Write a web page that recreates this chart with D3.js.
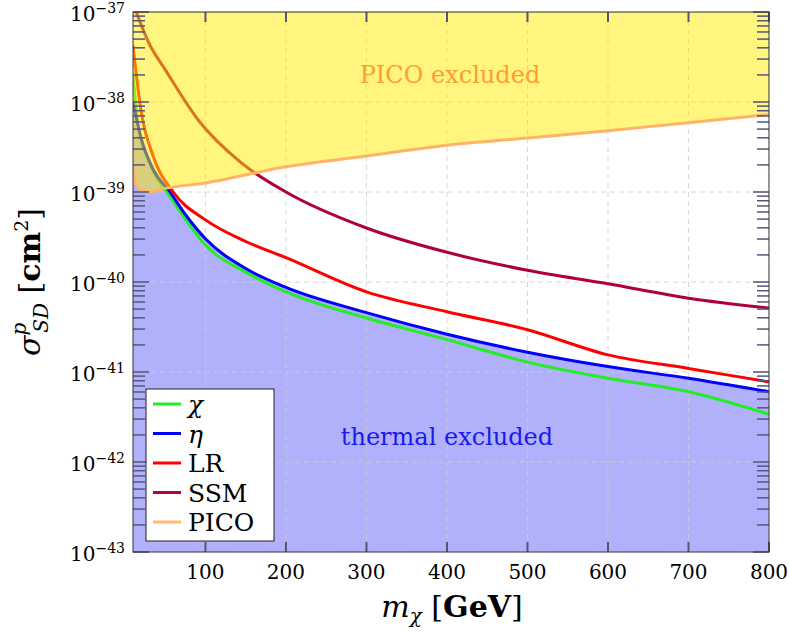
<!DOCTYPE html><html><head><meta charset="utf-8"><script src="https://cdn.jsdelivr.net/npm/d3@7"></script>
<style>body{margin:0;background:#fff}</style></head><body><svg id="c" width="789" height="634" font-family="DejaVu Serif, Liberation Serif, serif"></svg>
<script>
const chiData=[[10,-37.7],[17,-38.3],[29,-38.64],[41,-38.87],[52,-39.0],[75,-39.3],[100,-39.59],[150,-39.89],[200,-40.11],[300,-40.4],[400,-40.64],[500,-40.89],[600,-41.07],[700,-41.22],[800,-41.47]];
const etaData=[[10,-38.0],[20,-38.4],[35,-38.75],[56,-39.0],[75,-39.25],[100,-39.52],[150,-39.85],[200,-40.06],[300,-40.34],[400,-40.58],[500,-40.78],[600,-40.94],[700,-41.07],[800,-41.22]];
const lrData=[[10,-37.37],[20,-38.1],[35,-38.6],[60,-39.0],[100,-39.31],[150,-39.55],[200,-39.73],[300,-40.11],[400,-40.33],[500,-40.53],[600,-40.81],[700,-40.96],[800,-41.11]];
const ssmData=[[14,-37.0],[30,-37.35],[50,-37.64],[91,-38.2],[145,-38.68],[200,-39.0],[300,-39.4],[400,-39.67],[500,-39.87],[600,-40.02],[700,-40.18],[800,-40.29]];
const picoData=[[10,-38.7],[13,-38.9],[20,-38.98],[30,-39.0],[50,-38.96],[100,-38.9],[200,-38.72],[300,-38.6],[400,-38.48],[500,-38.4],[600,-38.32],[700,-38.23],[800,-38.14]];
const xTicks=[100,200,300,400,500,600,700,800];
const yExps=[-37,-38,-39,-40,-41,-42,-43];
const legendItems=[["χ","#22ee22",true],["η","#0000ff",true],["LR","#ff0000",false],["SSM","#c0003a",false],["PICO","#ffbb77",false]];

const svg=d3.select("#c");
const L=133,R=769,T=12,B=552;
const x=d3.scaleLinear().domain([10,800]).range([L,R]);
const y=d3.scaleLinear().domain([-43,-37]).range([B,T]);
svg.append("defs").append("clipPath").attr("id","cp").append("rect").attr("x",L).attr("y",T).attr("width",R-L).attr("height",B-T);
const g=svg.append("g").attr("clip-path","url(#cp)");
const line=d3.line().x(d=>x(d[0])).y(d=>y(d[1])).curve(d3.curveMonotoneX);
g.append("path").datum(etaData).attr("fill","#b1b1fb")
 .attr("d",d3.area().x(d=>x(d[0])).y0(B).y1(d=>y(d[1])).curve(d3.curveMonotoneX));
xTicks.forEach(v=>g.append("line").attr("x1",x(v)).attr("x2",x(v)).attr("y1",T).attr("y2",B).attr("stroke","#ccc").attr("stroke-dasharray","5,4").attr("stroke-width",0.8));
yExps.forEach(e=>g.append("line").attr("x1",L).attr("x2",R).attr("y1",y(e)).attr("y2",y(e)).attr("stroke","#ccc").attr("stroke-dasharray","5,4").attr("stroke-width",0.8));
[[chiData,"#22ee22"],[etaData,"#0000ff"],[lrData,"#ff0000"],[ssmData,"#b0003a"]].forEach(([d,c])=>
 g.append("path").datum(d).attr("fill","none").attr("stroke",c).attr("stroke-width",3).attr("d",line));
g.append("path").datum(picoData).attr("fill","#ffeb00").attr("fill-opacity",0.5)
 .attr("d",d3.area().x(d=>x(d[0])).y0(T).y1(d=>y(d[1])).curve(d3.curveMonotoneX));
g.append("path").datum(picoData).attr("fill","none").attr("stroke","#ffb366").attr("stroke-width",3).attr("d",line);
const tc="#55557a";
yExps.slice(1).forEach(e=>{for(let k=2;k<=9;k++){const yy=y(e+Math.log10(k));[[L,L+12],[R,R-12]].forEach(([a,b])=>svg.append("line").attr("x1",a).attr("x2",b).attr("y1",yy).attr("y2",yy).attr("stroke",tc).attr("stroke-width",1.5));}});
yExps.forEach(e=>[[L,L+16],[R,R-16]].forEach(([a,b])=>svg.append("line").attr("x1",a).attr("x2",b).attr("y1",y(e)).attr("y2",y(e)).attr("stroke",tc).attr("stroke-width",1.5)));
xTicks.forEach(v=>[[B,B-10],[T,T+10]].forEach(([a,b])=>svg.append("line").attr("x1",x(v)).attr("x2",x(v)).attr("y1",a).attr("y2",b).attr("stroke",tc).attr("stroke-width",2)));
svg.append("rect").attr("x",L).attr("y",T).attr("width",R-L).attr("height",B-T).attr("fill","none").attr("stroke","#333").attr("stroke-width",1);
xTicks.forEach(v=>svg.append("text").attr("x",x(v)).attr("y",B+27).attr("text-anchor","middle").attr("font-size",20).text(v));
yExps.forEach(e=>{const t=svg.append("text").attr("x",125).attr("y",y(e)+9).attr("text-anchor","end").attr("font-size",20);
 t.append("tspan").text("10");t.append("tspan").attr("dy",-8).attr("font-size",14).text("−"+(-e));});
const xl=svg.append("text").attr("x",452).attr("y",617).attr("text-anchor","middle").attr("font-size",30);
xl.append("tspan").attr("font-style","italic").text("m");xl.append("tspan").attr("font-style","italic").attr("font-size",20).attr("dy",6).text("χ");
xl.append("tspan").attr("dy",-6).text(" [");xl.append("tspan").attr("font-weight","bold").text("GeV");xl.append("tspan").text("]");
const yl=svg.append("text").attr("transform","translate(40,282) rotate(-90)").attr("text-anchor","middle").attr("font-size",30);
yl.append("tspan").attr("font-style","italic").text("σ");
yl.append("tspan").attr("font-style","italic").attr("font-size",20).attr("dy",-14).text("p");
yl.append("tspan").attr("font-style","italic").attr("font-size",20).attr("dx",-10).attr("dy",22).text("SD");
yl.append("tspan").attr("dy",-8).text(" [");yl.append("tspan").attr("font-weight","bold").text("cm");
yl.append("tspan").attr("font-size",19).attr("dy",-12).text("2");yl.append("tspan").attr("dy",12).text("]");
svg.append("text").attr("x",450).attr("y",83).attr("text-anchor","middle").attr("font-size",24).attr("fill","#ff9d33").text("PICO excluded");
svg.append("text").attr("x",447).attr("y",445).attr("text-anchor","middle").attr("font-size",24).attr("fill","#1a1aee").text("thermal excluded");
svg.append("rect").attr("x",146).attr("y",389).attr("width",128).attr("height",152).attr("fill","#fff").attr("stroke","#222").attr("stroke-width",1);
legendItems.forEach(([n,c,it],i)=>{const yy=404+i*29.5;
 svg.append("line").attr("x1",153).attr("x2",181).attr("y1",yy).attr("y2",yy).attr("stroke",c).attr("stroke-width",3);
 svg.append("text").attr("x",188).attr("y",yy+9).attr("font-size",25).attr("font-style",it?"italic":"normal").text(n);});
</script></body></html>
